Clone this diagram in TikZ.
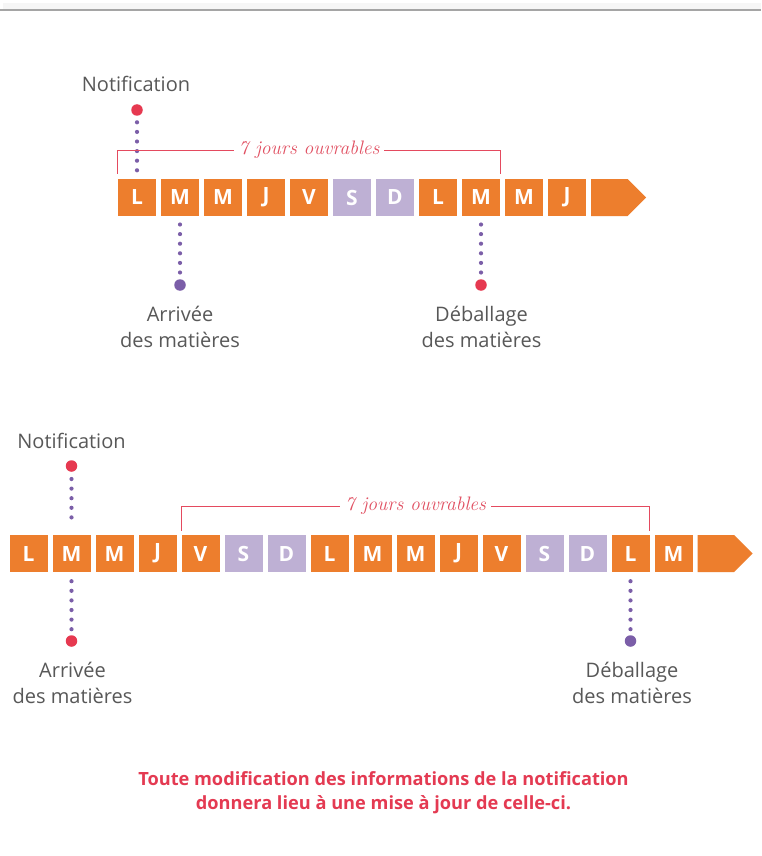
\documentclass[tikz,border=0pt]{standalone}
\usepackage{fontspec}
\newfontfamily\os{Open Sans}
\usetikzlibrary{shapes.symbols,calc}
\definecolor{orange1}{RGB}{237,126,45}
\definecolor{lav}{RGB}{190,176,212}
\definecolor{dotpur}{RGB}{123,94,168}
\definecolor{reddot}{RGB}{230,57,80}
\definecolor{brred}{RGB}{228,74,95}
\definecolor{durred}{RGB}{225,80,98}
\definecolor{txtgray}{RGB}{88,88,88}
\definecolor{notered}{RGB}{228,58,82}
\definecolor{rulegray}{RGB}{165,165,165}
\definecolor{bandgray}{RGB}{246,246,246}
\begin{document}
\begin{tikzpicture}[x=1pt,y=-1pt,
  day/.style={minimum width=38pt,minimum height=37pt,inner sep=0pt,text=white,font=\os\bfseries\fontsize{21}{21}\selectfont},
  wd/.style={day,fill=orange1},
  we/.style={day,fill=lav},
  arrowbox/.style={signal,signal to=east,signal pointer angle=90,fill=orange1,minimum width=55pt,minimum height=37pt,inner sep=0pt,anchor=west},
  bigred/.style={circle,fill=reddot,minimum size=11.5pt,inner sep=0pt},
  bigpur/.style={circle,fill=dotpur,minimum size=11.5pt,inner sep=0pt},
  dotline/.style={draw=dotpur,line width=4.2pt,line cap=round,dash pattern=on 0pt off 9.6pt},
  bracket/.style={draw=brred,line width=1.3pt},
  dur/.style={fill=white,inner xsep=5pt,inner ysep=0pt,text=durred,font=\itshape\fontsize{19.5}{20}\selectfont,yshift=1.5pt},
  lbl/.style={text=txtgray,font=\os\fontsize{20}{26}\selectfont,align=center,inner sep=0pt},
  note/.style={text=notered,font=\os\bfseries\fontsize{18.2}{24.5}\selectfont,align=center,inner sep=0pt}
]
\useasboundingbox (0,0) rectangle (761,856);
\fill[white] (0,0) rectangle (761,856);
\fill[bandgray] (3,3) rectangle (761,9);
\draw[rulegray,line width=1.5pt] (0,10) -- (761,10);

% ---------- timeline 1 ----------
\foreach \s/\l [count=\i from 0] in {wd/L,wd/M,wd/M,wd/J,wd/V,we/S,we/D,wd/L,wd/M,wd/M,wd/J}
  \node[\s] (t1b\i) at ({137+43*\i},197.5) {\l};
\node[arrowbox] (t1arr) at (591,197.5) {};

\node[lbl,anchor=base] (nt1) at (136,92) {Notification};
\node[bigred] (n1) at (137,110) {};
\node[bigpur] (a1) at (180,285) {};
\node[bigred] (d1) at (481,285) {};
\draw[dotline,shorten <=12.3pt,shorten >=8.3pt] (n1.center) -- (t1b0.north);
\draw[dotline,shorten <=8.3pt,shorten >=12.3pt] (t1b1.south) -- (a1.center);
\draw[dotline,shorten <=8.3pt,shorten >=12.3pt] (t1b8.south) -- (d1.center);
\node[lbl,anchor=base] (al1) at (180,347) {Arrivée\\des matières};
\node[lbl,anchor=base] (dl1) at (481.5,347) {Déballage\\des matières};

\coordinate (br1a) at ($(t1b0.north west)+(0,-5)$);
\coordinate (br1b) at ($(t1b8.north east)+(0,-5)$);
\draw[bracket] (br1a) -- ++(0,-23) -| node[dur,pos=0.25] (dur1) {7 jours ouvrables} (br1b);

% ---------- timeline 2 ----------
\foreach \s/\l [count=\i from 0] in {wd/L,wd/M,wd/M,wd/J,wd/V,we/S,we/D,wd/L,wd/M,wd/M,wd/J,wd/V,we/S,we/D,wd/L,wd/M}
  \node[\s] (t2b\i) at ({28.5+43*\i},553.5) {\l};
\node[arrowbox] (t2arr) at (697.5,553.5) {};

\node[lbl,anchor=base] (nt2) at (71.5,448) {Notification};
\node[bigred] (n2) at (71.5,466) {};
\node[bigred] (a2) at (71.5,641) {};
\node[bigpur] (d2) at (630.5,641) {};
\draw[dotline,shorten <=13pt,shorten >=8pt] (n2.center) -- (t2b1.north);
\draw[dotline,shorten <=9pt,shorten >=11.7pt] (t2b1.south) -- (a2.center);
\draw[dotline,shorten <=9pt,shorten >=11.7pt] (t2b14.south) -- (d2.center);
\node[lbl,anchor=base] (al2) at (72.5,703) {Arrivée\\des matières};
\node[lbl,anchor=base] (dl2) at (632,703) {Déballage\\des matières};

\coordinate (br2a) at ($(t2b4.north west)+(0,-4)$);
\coordinate (br2b) at ($(t2b14.north east)+(0,-4)$);
\draw[bracket] (br2a) -- ++(0,-24) -| node[dur,pos=0.25] (dur2) {7 jours ouvrables} (br2b);

% ---------- note ----------
\node[note,anchor=base] (note) at (383.5,809.5) {Toute modification des informations de la notification\\donnera lieu à une mise à jour de celle-ci.};
\end{tikzpicture}
\end{document}
